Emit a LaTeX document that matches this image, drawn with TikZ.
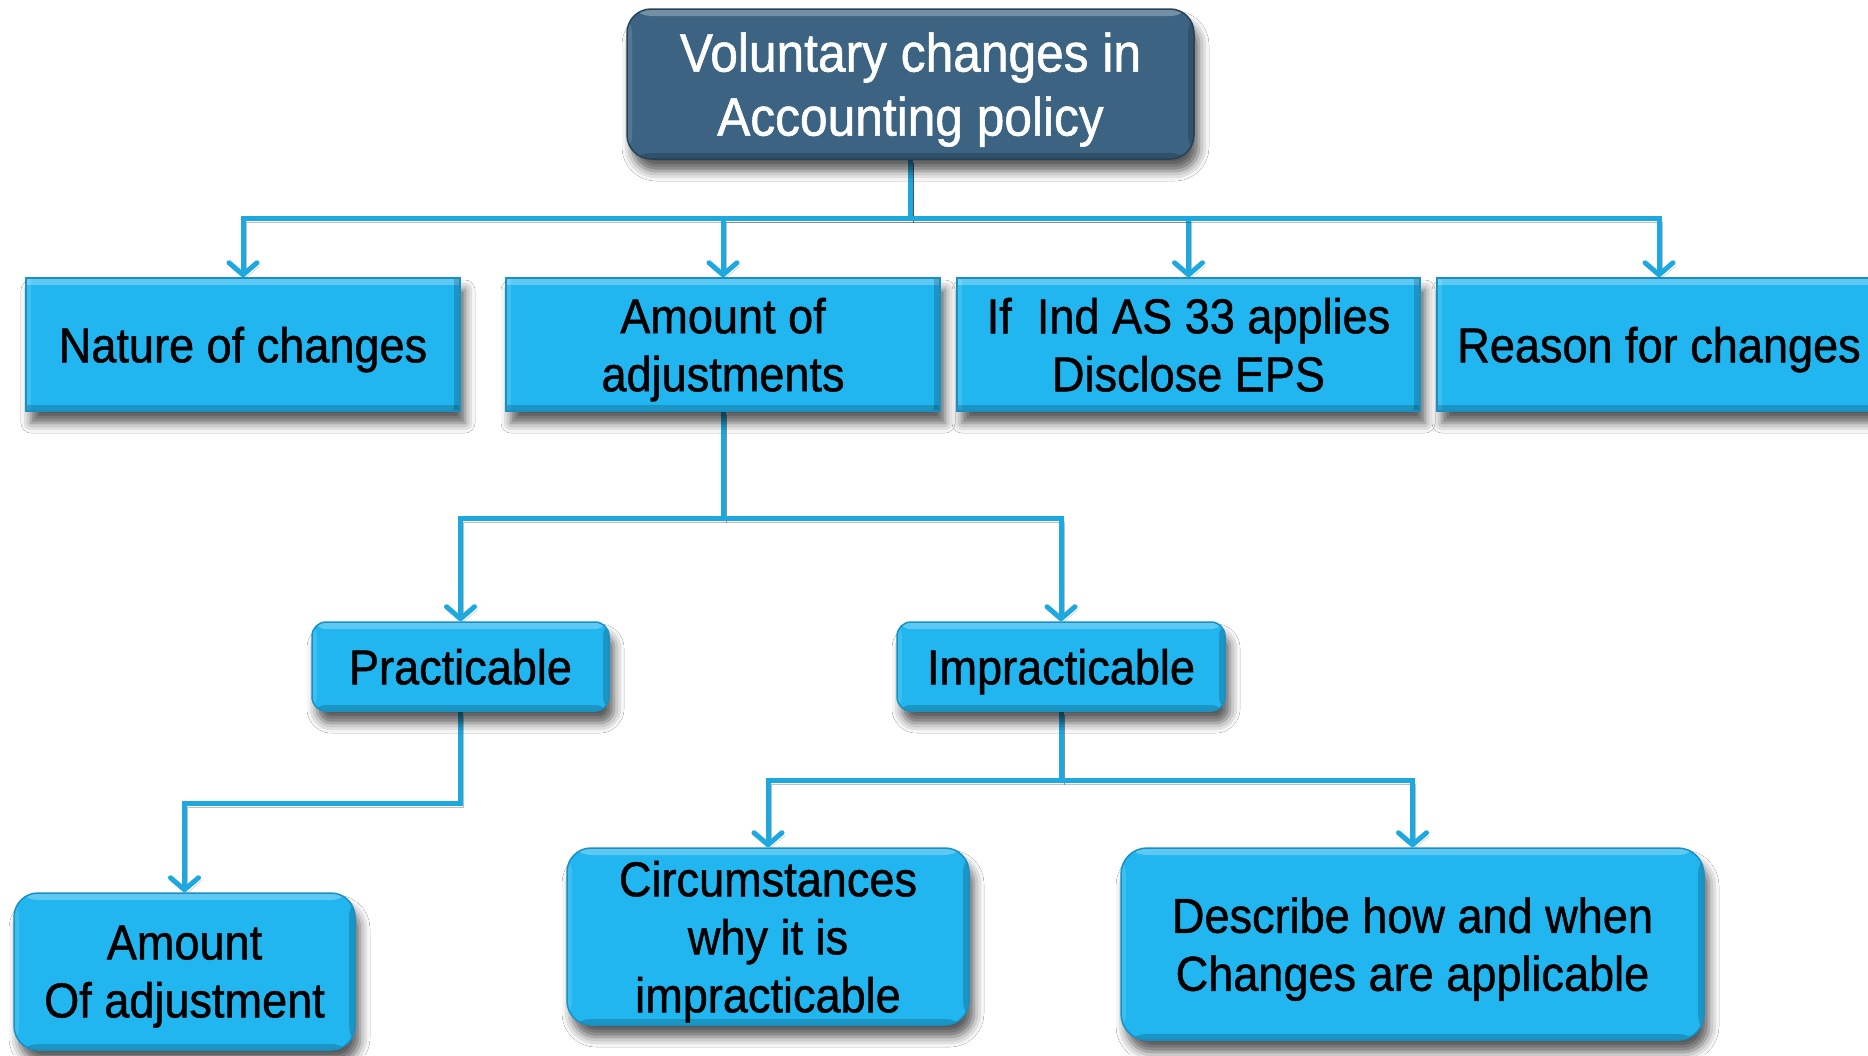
\documentclass[tikz,border=0pt]{standalone}
\usepackage{fontspec}
\setmainfont{Liberation Sans}[FakeStretch=0.92,FakeBold=1]
\usetikzlibrary{arrows.meta,shadows.blur}

\definecolor{boxblue}{HTML}{21B6EF}
\definecolor{boxedge}{HTML}{1A8FC2}
\definecolor{linkblue}{HTML}{1DA9E0}
\definecolor{headfill}{HTML}{3C6482}
\definecolor{headedge}{HTML}{24435A}

\pgfdeclarelayer{bg}
\pgfsetlayers{bg,main}

% light top/left rim and dark bottom/right rim inside a box
\newcommand\boxbevel{%
  \fill[white,opacity=.28] (path picture bounding box.north west) rectangle ([yshift=-7pt]path picture bounding box.north east);
  \fill[white,opacity=.12] (path picture bounding box.south west) rectangle ([xshift=5pt]path picture bounding box.north west);
  \fill[black,opacity=.18] ([xshift=-6pt]path picture bounding box.south east) rectangle (path picture bounding box.north east);
  \fill[black,opacity=.18] (path picture bounding box.south west) rectangle ([yshift=6pt]path picture bounding box.south east);
}

\tikzset{
  base/.style={draw=boxedge, line width=1.5pt, fill=boxblue, align=center,
    inner sep=0pt, text=black, text depth=0pt, font=\fontsize{49}{58}\selectfont,
    blur shadow={shadow xshift=5pt, shadow yshift=-12pt, shadow blur radius=10pt, shadow opacity=65},
    path picture={\boxbevel}},
  sqbox/.style={base, rectangle},
  rbox/.style={base, rounded corners=18pt},
  headbox/.style={base, fill=headfill, draw=headedge, text=white,
    rounded corners=24pt, font=\fontsize{54}{64}\selectfont},
  link/.style={draw=linkblue, line width=5pt, line join=miter,
    preaction={draw=black, opacity=.25, transform canvas={xshift=3pt,yshift=-3pt}}},
  arr/.style={link, -{Straight Barb[length=12pt,width=28pt,round]}}
}

\begin{document}
\begin{tikzpicture}[x=1pt,y=-1pt]
\useasboundingbox (0,0) rectangle (1868,1055);

% root
\node[headbox, minimum width=567pt, minimum height=150pt] (top) at (910.5,84)
  {Voluntary changes in\\Accounting policy};

% first level
\node[sqbox, minimum width=434pt, minimum height=133pt] (nature) at (243,344.5) {Nature of changes};
\node[sqbox, minimum width=434pt, minimum height=133pt] (amount) at (723,344.5) {Amount of\\adjustments};
\node[sqbox, minimum width=463pt, minimum height=133pt] (indas) at (1188.5,344.5) {If\ \ Ind AS 33 applies\\Disclose EPS};
\node[sqbox, minimum width=444pt, minimum height=133pt] (reason) at (1659,344.5) {Reason for changes};

% second level
\node[rbox, rounded corners=14pt, minimum width=297pt, minimum height=89pt] (prac) at (460.5,666.5) {Practicable};
\node[rbox, rounded corners=14pt, minimum width=328pt, minimum height=89pt] (imprac) at (1061,666.5) {Impracticable};

% third level
\node[rbox, rounded corners=24pt, minimum width=341pt, minimum height=157pt] (amtadj) at (184.5,971.5) {Amount\\Of adjustment};
\node[rbox, rounded corners=24pt, minimum width=402pt, minimum height=177pt] (circ) at (768,936.5) {Circumstances\\why it is\\impracticable};
\node[rbox, rounded corners=26pt, minimum width=583pt, minimum height=192pt] (desc) at (1412.5,944) {Describe how and when\\Changes are applicable};

% junction points
\path (top.south) ++(0,59) coordinate (j1);
\path (amount.south) ++(0,107) coordinate (j2);
\path (prac.south) ++(0,92) coordinate (j3);
\path (imprac.south) ++(0,69) coordinate (j4);

\begin{pgfonlayer}{bg}
\fill[white] (0,0) rectangle (1868,1055);
\foreach \n in {nature,amount,indas,reason}
  \draw[arr] (top.south) -- (j1) -| (\n.north);
\foreach \n in {prac,imprac}
  \draw[arr] (amount.south) -- (j2) -| (\n.north);
\draw[arr] (prac.south) -- (j3) -| (amtadj.north);
\foreach \n in {circ,desc}
  \draw[arr] (imprac.south) -- (j4) -| (\n.north);
\end{pgfonlayer}
\end{tikzpicture}
\end{document}
